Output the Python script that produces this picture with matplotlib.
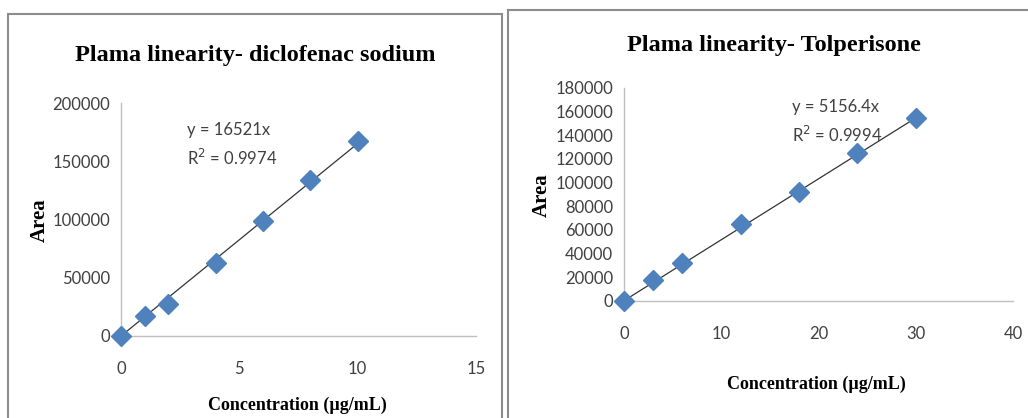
import matplotlib
matplotlib.use("Agg")
import matplotlib.pyplot as plt
import numpy as np
from matplotlib.patches import Rectangle
from matplotlib.lines import Line2D

# diclofenac sodium
conc_dic = [0, 1, 2, 4, 6, 8, 10]
area_dic = [0, 17200, 27500, 62700, 98700, 134000, 167600]
slope_dic = 16521
r2_dic = 0.9974

# tolperisone
conc_tol = [0, 3, 6, 12, 18, 24, 30]
area_tol = [0, 17500, 31600, 64900, 92200, 124700, 154300]
slope_tol = 5156.4
r2_tol = 0.9994

W, H = 1028, 418
fig = plt.figure(figsize=(W / 100, H / 100), dpi=100)

serif = ['Liberation Serif', 'DejaVu Serif']
sans = ['Liberation Sans Narrow', 'Lato', 'DejaVu Sans']
blue = '#4F81BD'
grey = '#8C8C8C'


def px_axes(x0, y0, x1, y1):
    # pixel box (top-left origin) -> figure axes
    return fig.add_axes([x0 / W, 1 - y1 / H, (x1 - x0) / W, (y1 - y0) / H])


def panel(ax, x, y, slope, r2, xmax, ymax, ystep, xstep, eq_xy):
    ax.plot(x, y, linestyle='none', marker='D', markersize=10,
            color=blue, clip_on=False, zorder=3)
    xf = np.array([0, max(x)])
    ax.plot(xf, slope * xf, color='#333333', linewidth=0.9, zorder=2)
    ax.set_xlim(0, xmax)
    ax.set_ylim(0, ymax)
    ax.set_xticks(np.arange(0, xmax + 1, xstep))
    ax.set_yticks(np.arange(0, ymax + 1, ystep))
    for s in ['top', 'right']:
        ax.spines[s].set_visible(False)
    for s in ['left', 'bottom']:
        ax.spines[s].set_color('#BFBFBF')
        ax.spines[s].set_linewidth(1)
    ax.tick_params(length=0, labelsize=12, colors='#404040')
    ax.tick_params(axis='x', pad=18)
    ax.tick_params(axis='y', pad=8)
    for lab in ax.get_xticklabels() + ax.get_yticklabels():
        lab.set_family(sans)
    eq = 'y = %gx\nR$^2$ = %g' % (slope, r2)
    ax.text(eq_xy[0], eq_xy[1], eq, family=sans, fontsize=12,
            color='#404040', va='top', ha='left', linespacing=1.6)
    ax.patch.set_alpha(0)


ax1 = px_axes(121, 103, 476, 336)
panel(ax1, conc_dic, area_dic, slope_dic, r2_dic, 15, 200000, 50000, 5,
      (2.8, 184000))
ax2 = px_axes(624, 88, 1013, 300.7)
panel(ax2, conc_tol, area_tol, slope_tol, r2_tol, 40, 180000, 20000, 10,
      (17.3, 171000))

# titles and axis labels
fig.text(255 / W, 1 - 55 / H, 'Plama linearity- diclofenac sodium',
         family=serif, fontsize=17.5, weight='bold', ha='center', va='center')
fig.text(774 / W, 1 - 45 / H, 'Plama linearity- Tolperisone',
         family=serif, fontsize=17.5, weight='bold', ha='center', va='center')
fig.text(40 / W, 1 - 220 / H, 'Area', family=serif, fontsize=15,
         weight='bold', rotation=90, ha='center', va='center')
fig.text(542 / W, 1 - 195 / H, 'Area', family=serif, fontsize=15,
         weight='bold', rotation=90, ha='center', va='center')
fig.text(297 / W, 1 - 405 / H, 'Concentration (µg/mL)', family=serif,
         fontsize=13, weight='bold', ha='center', va='center')
fig.text(816 / W, 1 - 384 / H, 'Concentration (µg/mL)', family=serif,
         fontsize=13, weight='bold', ha='center', va='center')

# panel borders
fig.patches.append(Rectangle((8 / W, -0.05), (502 - 8) / W, 1.05 - 14 / H,
                             transform=fig.transFigure, fill=False,
                             edgecolor=grey, linewidth=1.5))
fig.lines.append(Line2D([508 / W, 1.0], [1 - 10 / H, 1 - 10 / H],
                        transform=fig.transFigure, color=grey, linewidth=1.5))
fig.lines.append(Line2D([508 / W, 508 / W], [0, 1 - 10 / H],
                        transform=fig.transFigure, color=grey, linewidth=1.5))

fig.savefig('out.png', dpi=100)
